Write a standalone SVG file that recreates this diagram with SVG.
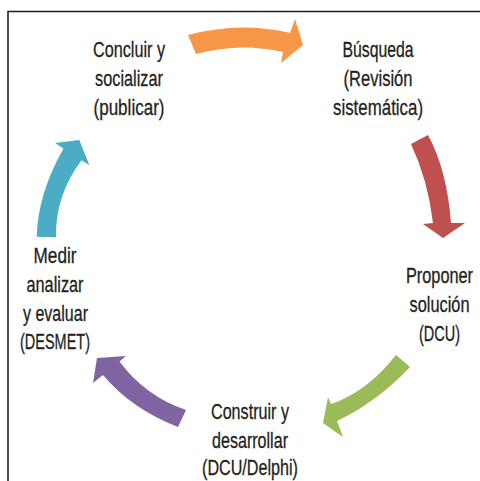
<svg xmlns="http://www.w3.org/2000/svg" width="480" height="481" viewBox="0 0 480 481">
<style>
.lbl{font-family:"Liberation Sans Narrow","Liberation Sans","DejaVu Sans Condensed",sans-serif;font-size:22px;fill:#231f20;stroke:#231f20;stroke-width:0.3;text-anchor:middle}
.sm{font-size:19px;stroke-width:0.28}
.xs{font-size:17px;stroke-width:0.26}
.frame{fill:none;stroke:#231f20;stroke-width:1.6}
</style>
<rect width="480" height="481" fill="#ffffff"/>
<path class="frame" d="M8,481 V11.5 H480"/>
<g id="connectors">
<path id="a-orange" fill="#F79646" d="M188,35 Q240,21 290,33 L295,19 L303,45 L281,63 L283,52 Q240,42 196,54 Z"/>
<path id="a-red" fill="#C0504D" d="M411,144 Q428,180 433,223 L423,224 L443,238 L465,223 L451,223 Q447,170 428,135 Z"/>
<path id="a-green" fill="#9BBB59" d="M396,355 Q367,392 331,404 L328,397 L323,423 L343,437 L337,421 Q377,402 410,367 Z"/>
<path id="a-purple" fill="#8064A2" d="M186,410 Q145,396 119.5,361.5 L126,356 L97,358 L93,383 L103,375 Q131.5,409 178,427 Z"/>
<path id="a-teal" fill="#4BACC6" d="M36.7,236.7 Q37.9,193.4 63.5,148.5 L55,143 L79.3,140 L89.3,165 L81.5,160.2 Q55.2,195.2 56,237.3 Z"/>
</g>
<g id="node-concluir">
<text class="lbl" x="129" y="57" textLength="72" lengthAdjust="spacingAndGlyphs">Concluir y</text>
<text class="lbl" x="129" y="86" textLength="68" lengthAdjust="spacingAndGlyphs">socializar</text>
<text class="lbl" x="129" y="115" textLength="71" lengthAdjust="spacingAndGlyphs">(publicar)</text>
</g>
<g id="node-busqueda">
<text class="lbl" x="378" y="57" textLength="71" lengthAdjust="spacingAndGlyphs">Búsqueda</text>
<text class="lbl" x="378" y="86" textLength="69" lengthAdjust="spacingAndGlyphs">(Revisión</text>
<text class="lbl" x="378" y="115" textLength="90" lengthAdjust="spacingAndGlyphs">sistemática)</text>
</g>
<g id="node-proponer">
<g transform="translate(439.5,0) scale(1,1.294)">
<text class="lbl xs" x="0" y="218.7" textLength="67" lengthAdjust="spacingAndGlyphs">Proponer</text>
</g>
<g transform="translate(439.5,0) scale(1,1.158)">
<text class="lbl sm" x="0" y="269.4" textLength="60" lengthAdjust="spacingAndGlyphs">solución</text>
<text class="lbl sm" x="0" y="294.5" textLength="41" lengthAdjust="spacingAndGlyphs">(DCU)</text>
</g>
</g>
<g id="node-construir">
<text class="lbl" x="250" y="419" textLength="78" lengthAdjust="spacingAndGlyphs">Construir y</text>
<text class="lbl" x="250" y="447.5" textLength="76" lengthAdjust="spacingAndGlyphs">desarrollar</text>
<text class="lbl" x="250" y="475" textLength="96" lengthAdjust="spacingAndGlyphs">(DCU/Delphi)</text>
</g>
<g id="node-medir">
<text class="lbl" x="55" y="263" textLength="43" lengthAdjust="spacingAndGlyphs">Medir</text>
<text class="lbl" x="55" y="292" textLength="57" lengthAdjust="spacingAndGlyphs">analizar</text>
<text class="lbl" x="55.5" y="320.5" textLength="65" lengthAdjust="spacingAndGlyphs">y evaluar</text>
<text class="lbl" x="55" y="349" textLength="70" lengthAdjust="spacingAndGlyphs">(DESMET)</text>
</g>
</svg>
